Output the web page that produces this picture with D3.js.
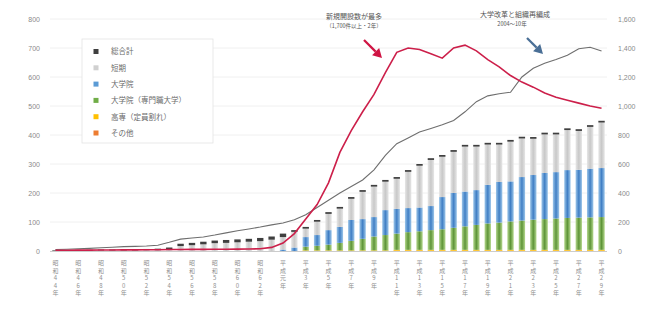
<!DOCTYPE html>
<html>
<head>
<meta charset="utf-8">
<script src="https://cdn.jsdelivr.net/npm/d3@7"></script>
<style>
  body { margin: 0; background: #fff; }
  svg { font-family: "Noto Sans CJK JP", "Noto Sans", sans-serif; }
</style>
</head>
<body>
<div id="chart"></div>
<script>
// years 1969 - 2017 (昭和44年 - 平成29年)
const years = d3.range(1969, 2018);

// stacked bar segments (left axis), bottom -> top
const orangeVals = [0,0,0,0,0,0,0,0,0,0, 0,0,0,0,0,0,0,0,0,0, 0,0,0,0,0,0,0,0,0,0, 1,1,1,1,1,1,1,1,1,1, 1,1,1,1,1,1,1,1,1];
const yellowVals = [0,0,0,0,0,0,0,0,0,0, 0,0,0,0,0,0,0,0,0,0, 0,0,2,2,2,2,2,2,2,2, 3,3,3,3,3,3,3,3,3,3, 3,3,3,3,3,3,3,3,3];
const greenVals  = [0,0,0,0,0,0,0,0,0,0, 0,0,0,0,0,0,0,0,0,0, 0,0,13,16,20,26,33,40,48,53, 56,61,64,68,71,76,81,86,91,94, 98,101,104,106,108,110,111,112,113];
const blueVals   = [0,0,0,0,0,0,0,0,0,0, 0,0,0,0,0,0,0,0,0,0, 5,12,33,37,50,55,72,68,67,86, 85,83,82,83,111,120,120,120,133,140, 138,150,154,159,160,165,165,168,169];
const grayVals   = [1,1,1,1,2,2,2,2,3,3, 6,17,20,23,27,28,30,32,34,39, 43,54,29,46,56,63,73,94,105,98, 104,125,144,159,139,142,155,150,139,129, 137,133,125,133,130,138,134,144,157];
const darkVals   = [2,2,3,3,3,3,4,4,4,5, 6,8,8,9,9,10,10,10,11,11, 12,6,6,6,6,6,6,6,6,6, 6,6,6,6,6,6,6,6,6,6, 6,6,6,6,6,6,6,6,6];

// lines (right axis)
const redLine  = [5,5,6,6,7,7,8,8,9,9, 10,10,11,11,12,12,13,14,15,25, 55,120,220,320,470,680,830,960,1080,1230, 1370,1400,1390,1360,1330,1400,1420,1380,1320,1270, 1210,1165,1130,1090,1060,1040,1020,1000,985];
const grayLine = [10,12,15,18,22,26,30,32,35,40, 60,82,90,97,110,125,140,152,165,180, 193,215,250,300,350,400,445,490,560,660, 740,780,820,845,870,900,960,1030,1070,1085, 1095,1200,1260,1295,1320,1350,1395,1405,1380];

const leftTicks = d3.range(0, 801, 100);
const rightTicks = d3.range(0, 1601, 200);

const seriesNames = ["総合計", "短期", "大学院", "大学院（専門職大学）", "高専（定員割れ）", "その他"];
const seriesColors = ["#3f3f3f", "#d0d0d0", "#5b9bd5", "#70ad47", "#ffc000", "#ed7d31"];

function yearLabel(y) {
    if (y < 1989) return ["昭", "和"].concat(String(y - 1925).split("")).concat(["年"]);
    const h = y - 1988;
    if (h === 1) return ["平", "成", "元", "年"];
    return ["平", "成"].concat(String(h).split("")).concat(["年"]);
}

const width = 655, height = 314;
const svg = d3.select("#chart").append("svg")
    .attr("width", width)
    .attr("height", height);

const x = d3.scaleBand().domain(years).range([50, 607]).paddingInner(0.44).paddingOuter(0.2);
const yL = d3.scaleLinear().domain([0, 800]).range([251, 19]);
const yR = d3.scaleLinear().domain([0, 1600]).range([251, 19]);

// gradients for bars
const defs = svg.append("defs");
function grad(id, edge, mid) {
    const g = defs.append("linearGradient").attr("id", id).attr("x1", 0).attr("x2", 1).attr("y1", 0).attr("y2", 0);
    g.append("stop").attr("offset", "0%").attr("stop-color", edge);
    g.append("stop").attr("offset", "50%").attr("stop-color", mid);
    g.append("stop").attr("offset", "100%").attr("stop-color", edge);
}
grad("gBlue", "#9cc6ea", "#3f7ec4");
grad("gGreen", "#b5d88e", "#5d9437");
grad("gGray", "#e6e6e6", "#c8c8c8");

// gridlines
svg.append("g")
    .selectAll("line")
    .data(leftTicks.slice(1))
    .enter().append("line")
    .attr("x1", 50).attr("x2", 607)
    .attr("y1", d => yL(d)).attr("y2", d => yL(d))
    .attr("stroke", "#ececec").attr("stroke-width", 0.8);

// left axis
const axL = svg.append("g").attr("transform", "translate(44,0)")
    .call(d3.axisLeft(yL).tickValues(leftTicks).tickSize(0).tickPadding(4));
axL.select(".domain").remove();
axL.selectAll("text").attr("fill", "#8a8a8a").style("font-size", "7px");

// right axis
const axR = svg.append("g").attr("transform", "translate(614,0)")
    .call(d3.axisRight(yR).tickValues(rightTicks).tickSize(0).tickPadding(4).tickFormat(d3.format(",")));
axR.select(".domain").remove();
axR.selectAll("text").attr("fill", "#8a8a8a").style("font-size", "7px");

// stacked bars
const table = years.map((y, i) => ({
    year: y,
    orange: orangeVals[i], yellow: yellowVals[i], green: greenVals[i],
    blue: blueVals[i], gray: grayVals[i], dark: darkVals[i]
}));
const keys = ["orange", "yellow", "green", "blue", "gray", "dark"];
const fills = { orange: "#ed7d31", yellow: "#ffc000", green: "url(#gGreen)", blue: "url(#gBlue)", gray: "url(#gGray)", dark: "#3f3f3f" };
const stacked = d3.stack().keys(keys)(table);

svg.append("g")
    .selectAll("g")
    .data(stacked)
    .enter().append("g")
    .attr("fill", d => fills[d.key])
    .selectAll("rect")
    .data(d => d)
    .enter().append("rect")
    .attr("x", d => x(d.data.year))
    .attr("width", x.bandwidth())
    .attr("y", d => yL(d[1]))
    .attr("height", d => Math.max(0, yL(d[0]) - yL(d[1])));

// x axis line
svg.append("line")
    .attr("x1", 50).attr("x2", 607).attr("y1", 251.5).attr("y2", 251.5)
    .attr("stroke", "#bfbfbf").attr("stroke-width", 0.8);

// lines
const line = d3.line()
    .x((d, i) => x(years[i]) + x.bandwidth() / 2)
    .y(d => yR(d));

svg.append("path")
    .datum(grayLine)
    .attr("fill", "none")
    .attr("stroke", "#6e6e6e")
    .attr("stroke-width", 1.1)
    .attr("d", line);

svg.append("path")
    .datum(redLine)
    .attr("fill", "none")
    .attr("stroke", "#cc1f4a")
    .attr("stroke-width", 1.6)
    .attr("d", line);

// x labels (vertical characters, every other year)
const xl = svg.append("g")
    .selectAll("text")
    .data(years.filter((y, i) => i % 2 === 0))
    .enter().append("text")
    .attr("text-anchor", "middle")
    .attr("fill", "#8f8f8f")
    .style("font-size", "6px");
xl.each(function (y) {
    const t = d3.select(this);
    yearLabel(y).forEach((c, k) => {
        t.append("tspan")
            .attr("x", x(y) + x.bandwidth() / 2)
            .attr("y", 265 + k * 7.5)
            .text(c);
    });
});

// legend
const legend = svg.append("g");
legend.append("rect")
    .attr("x", 82).attr("y", 39).attr("width", 131).attr("height", 104)
    .attr("fill", "#fff").attr("stroke", "#e3e3e3").attr("stroke-width", 0.8);
const li = legend.selectAll("g.item")
    .data(seriesNames)
    .enter().append("g")
    .attr("class", "item")
    .attr("transform", (d, i) => `translate(96,${51.5 + i * 16.3})`);
li.append("rect")
    .attr("x", -2.5).attr("y", -2.5).attr("width", 5).attr("height", 5)
    .attr("fill", (d, i) => seriesColors[i]);
li.append("text")
    .attr("x", 15).attr("y", 2.8)
    .attr("fill", "#6a6a6a")
    .style("font-size", "7.5px")
    .text(d => d);

// annotations
const ann = svg.append("g").attr("fill", "#555").attr("text-anchor", "middle");
ann.append("text").attr("x", 354).attr("y", 19).style("font-size", "7px").text("新規開設数が最多");
ann.append("text").attr("x", 354).attr("y", 28).style("font-size", "5.5px").text("（1,700件以上・2年）");
ann.append("text").attr("x", 515).attr("y", 17).style("font-size", "7px").text("大学改革と組織再編成");
ann.append("text").attr("x", 512).attr("y", 26).style("font-size", "5.5px").text("2004～10年");

// arrows
function arrow(x1, y1, x2, y2, color) {
    const ang = Math.atan2(y2 - y1, x2 - x1);
    const hl = 9, hw = 5;
    const bx = x2 - hl * Math.cos(ang), by = y2 - hl * Math.sin(ang);
    svg.append("line")
        .attr("x1", x1).attr("y1", y1).attr("x2", bx).attr("y2", by)
        .attr("stroke", color).attr("stroke-width", 2.2);
    svg.append("path")
        .attr("d", `M${x2},${y2} L${bx - hw * Math.sin(ang)},${by + hw * Math.cos(ang)} L${bx + hw * Math.sin(ang)},${by - hw * Math.cos(ang)} Z`)
        .attr("fill", color);
}
arrow(364, 40, 382, 58, "#cf1443");
arrow(527, 38, 543, 54, "#4a6f96");
</script>
</body>
</html>
